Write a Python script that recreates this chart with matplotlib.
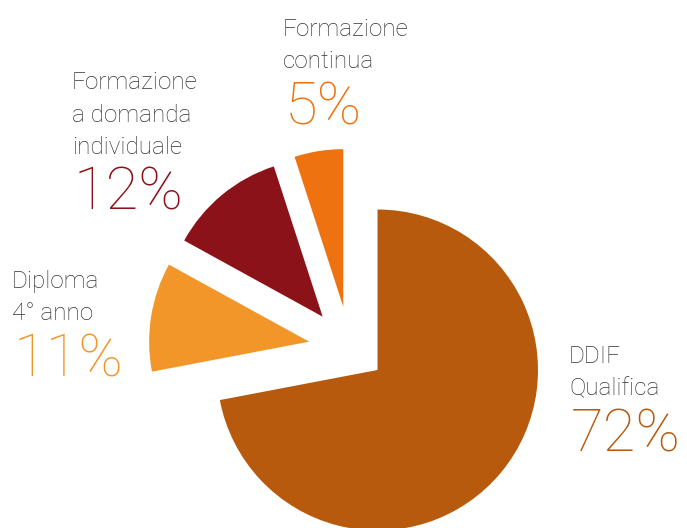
import numpy as np
import matplotlib.pyplot as plt

categories = ["DDIF\nQualifica", "Diploma\n4° anno",
              "Formazione\na domanda\nindividuale", "Formazione\ncontinua"]
values = [72, 11, 12, 5]
colors = ["#B85A0D", "#F39629", "#8B1219", "#EE7310"]

# layout (figure pixels, y measured from bottom)
center = (377.5, 158)
radius = 160.5
# how far each slice is pulled out: (direction deg, distance px, radius px)
pull = [(0, 0, 160.5), (157.5, 74, 160), (135.8, 76.5, 158), (118.4, 72, 157.5)]
# label anchor: left x, baseline of first text line
label_pos = [(569, 528 - 363), (12, 528 - 288), (72, 528 - 89), (283, 528 - 36)]
line_step = 32.5

plt.rcParams['font.family'] = ['Roboto', 'DejaVu Sans']

fig = plt.figure(figsize=(6.87, 5.28), dpi=100)
ax = fig.add_axes([0, 0, 1, 1])

wedges, _ = ax.pie(values, colors=colors, startangle=90, counterclock=False,
                   center=center, radius=radius,
                   wedgeprops=dict(linewidth=0))

for w, (ang, dist, r) in zip(wedges, pull):
    a = np.deg2rad(ang)
    w.set_center((center[0] + dist * np.cos(a), center[1] + dist * np.sin(a)))
    w.set_radius(r)

for cat, val, col, (x, y) in zip(categories, values, colors, label_pos):
    lines = cat.split("\n")
    for i, line in enumerate(lines):
        ax.text(x, y - i * line_step, line, fontsize=17.5, fontweight='light',
                color="#333333", ha='left', va='baseline')
    ax.text(x + 2, y - (len(lines) - 1) * line_step - 56, f"{val}%",
            fontsize=43, fontweight='light', color=col, ha='left', va='baseline')

ax.set_xlim(0, 687)
ax.set_ylim(0, 528)
ax.axis('off')

fig.savefig("out.png", dpi=100)
